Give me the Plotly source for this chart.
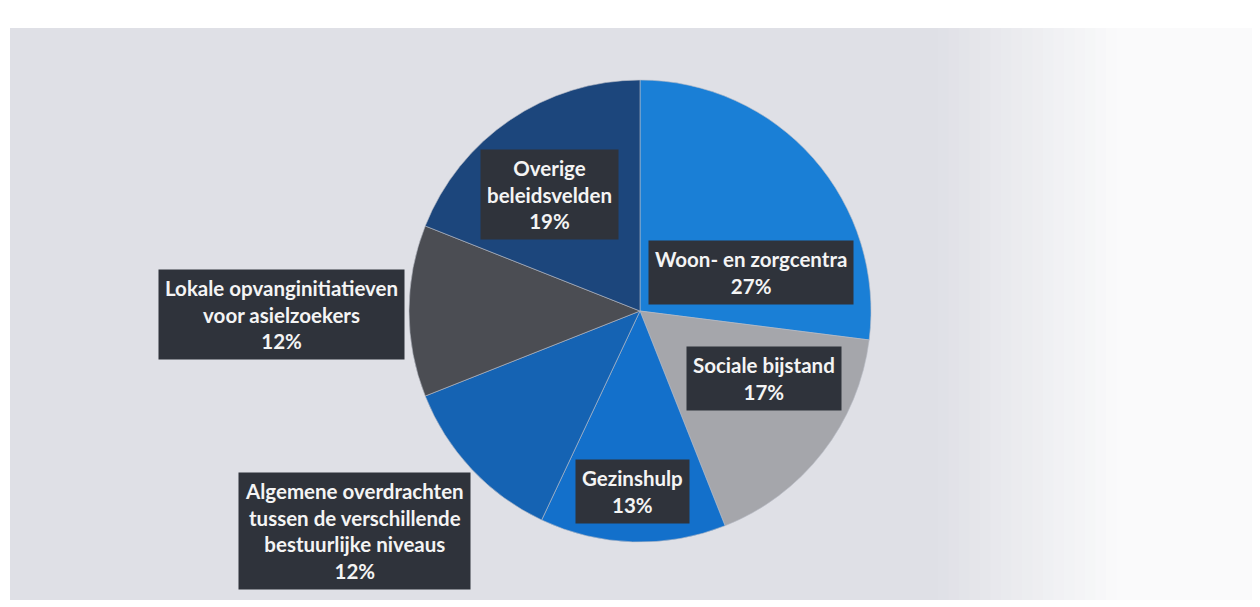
import plotly.graph_objects as go

# ---- data ----
categories = [
    "Woon- en zorgcentra",
    "Sociale bijstand",
    "Gezinshulp",
    "Algemene overdrachten<br>tussen de verschillende<br>bestuurlijke niveaus",
    "Lokale opvanginitiatieven<br>voor asielzoekers",
    "Overige<br>beleidsvelden",
]
shares = [27, 17, 13, 12, 12, 19]

# ---- styles ----
slice_colors = ["#1a7fd6", "#a5a6ab", "#1370cb", "#1563b3", "#4b4d53", "#1c467c"]
OFF = 8  # page body margin
# label box centres in pixels (x, y from top)
label_px = [(751, 272), (764, 378), (632, 491), (354, 531), (281, 314), (549, 194)]

W, H = 1260, 607
cx, cy, r = 640 - OFF, 311 - OFF, 231


def fx(px):
    return px / W


def fy(py):
    return 1 - py / H


fig = go.Figure()
fig.add_trace(go.Pie(
    labels=[c.replace("<br>", " ") for c in categories],
    values=shares,
    sort=False,
    direction="clockwise",
    rotation=0,
    textinfo="none",
    hoverinfo="label+percent",
    marker=dict(colors=slice_colors, line=dict(color="#b9bcc6", width=0.6)),
    domain=dict(x=[fx(cx - r), fx(cx + r)], y=[fy(cy + r), fy(cy - r)]),
    showlegend=False,
))

shapes = []
x0, x1, y0, y1 = 10 - OFF, 1245, 28 - OFF, 600 - OFF
shapes.append(dict(type="rect", xref="paper", yref="paper",
                   x0=fx(x0), x1=fx(x1), y0=fy(y1), y1=fy(y0),
                   fillcolor="#dfe0e6", line=dict(width=0), layer="below"))
n = 30
fade_start = 930
for i in range(n):
    xa = fade_start + (x1 - fade_start) * i / n
    xb = fade_start + (x1 - fade_start) * (i + 1) / n
    t = min(1.0, (i + 1) / n * 1.7)
    rr = int(223 + (250 - 223) * t)
    gg = int(224 + (250 - 224) * t)
    bb = int(230 + (251 - 230) * t)
    shapes.append(dict(type="rect", xref="paper", yref="paper",
                       x0=fx(xa), x1=fx(xb) + 0.001, y0=fy(y1), y1=fy(y0),
                       fillcolor=f"rgb({rr},{gg},{bb})", line=dict(width=0), layer="below"))

annotations = []
for cat, val, (px, py) in zip(categories, shares, label_px):
    annotations.append(dict(
        x=fx(px - OFF), y=fy(py - OFF), xref="paper", yref="paper",
        text=f"<b>{cat}<br>{val}%</b>",
        showarrow=False,
        font=dict(family="Lato, Open Sans, sans-serif", size=20.5, color="#f4f4f4"),
        bgcolor="#2f333b",
        borderpad=6,
        align="center",
        xanchor="center", yanchor="middle",
    ))

fig.update_layout(
    width=W, height=H,
    margin=dict(l=0, r=0, t=0, b=0),
    paper_bgcolor="#ffffff",
    plot_bgcolor="#ffffff",
    shapes=shapes,
    annotations=annotations,
)

fig.write_html("out.html")
